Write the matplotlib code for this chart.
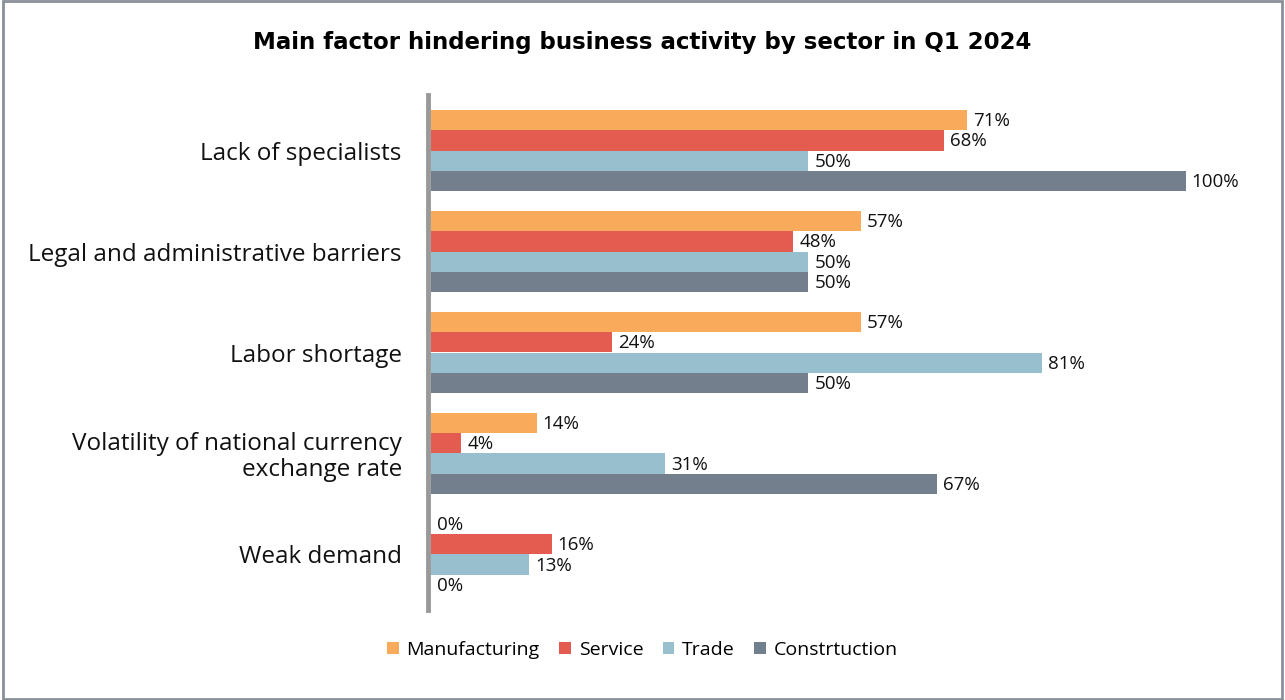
import numpy as np
import matplotlib
matplotlib.use("Agg")
import matplotlib.pyplot as plt
from matplotlib.patches import Rectangle

# 데이터
categories = ["Lack of specialists", "Legal and administrative barriers", "Labor shortage",
              "Volatility of national currency\nexchange rate", "Weak demand"]
sectors = ["Manufacturing", "Service", "Trade", "Constrtuction"]
manufacturing = [71, 57, 57, 14, 0]
service = [68, 48, 24, 4, 16]
trade = [50, 50, 81, 31, 13]
construction = [100, 50, 50, 67, 0]
colors = ["#F9AA5B", "#E45B50", "#97BFCE", "#737F8C"]

plt.rcParams['font.family'] = ['Open Sans', 'DejaVu Sans']

fig = plt.figure(figsize=(12.85, 7), dpi=100)
# 테두리
fig.patches.append(Rectangle((0.002, 0.002), 0.996, 0.996, transform=fig.transFigure,
                             fill=False, edgecolor="#8A9099", linewidth=2))

ax = fig.add_axes([431 / 1285, 90 / 700, 830 / 1285, 515 / 700])

# 축 스타일 (set_position이 눈금을 초기화하므로 먼저)
for s in ["top", "right", "bottom"]:
    ax.spines[s].set_visible(False)
ax.spines["left"].set_color("#999999")
ax.spines["left"].set_linewidth(3.5)
ax.spines["left"].set_position(("outward", 2))

y = np.arange(len(categories))
h = 0.2
offsets = [-0.3, -0.1, 0.1, 0.3]
series = [manufacturing, service, trade, construction]
for vals, off, c, name in zip(series, offsets, colors, sectors):
    bars = ax.barh(y + off, vals, height=h, color=c, label=name)
    for b, v in zip(bars, vals):
        ax.text(v + 0.8, b.get_y() + h / 2 + 0.01, f"{v}%", va="center", ha="left",
                fontsize=13.5, color="#111111")

ax.set_xlim(0, 110)
ax.set_ylim(4.55, -0.55)
ax.set_xticks([])
ax.set_yticks(y)
ax.set_yticklabels(categories, fontsize=17.5, ha="right", color="#111111", linespacing=1.1)
ax.tick_params(axis="y", length=0, pad=19)

fig.text(0.5, 0.94, "Main factor hindering business activity by sector in Q1 2024",
         ha="center", va="center", fontsize=16.5, fontweight="bold", family="DejaVu Sans")

fig.legend(loc="center", bbox_to_anchor=(0.5, 1 - 650 / 700), ncol=4, frameon=False,
           fontsize=14, handlelength=0.6, handleheight=0.6, columnspacing=1.0, handletextpad=0.4)

fig.savefig("out.png", dpi=100)
